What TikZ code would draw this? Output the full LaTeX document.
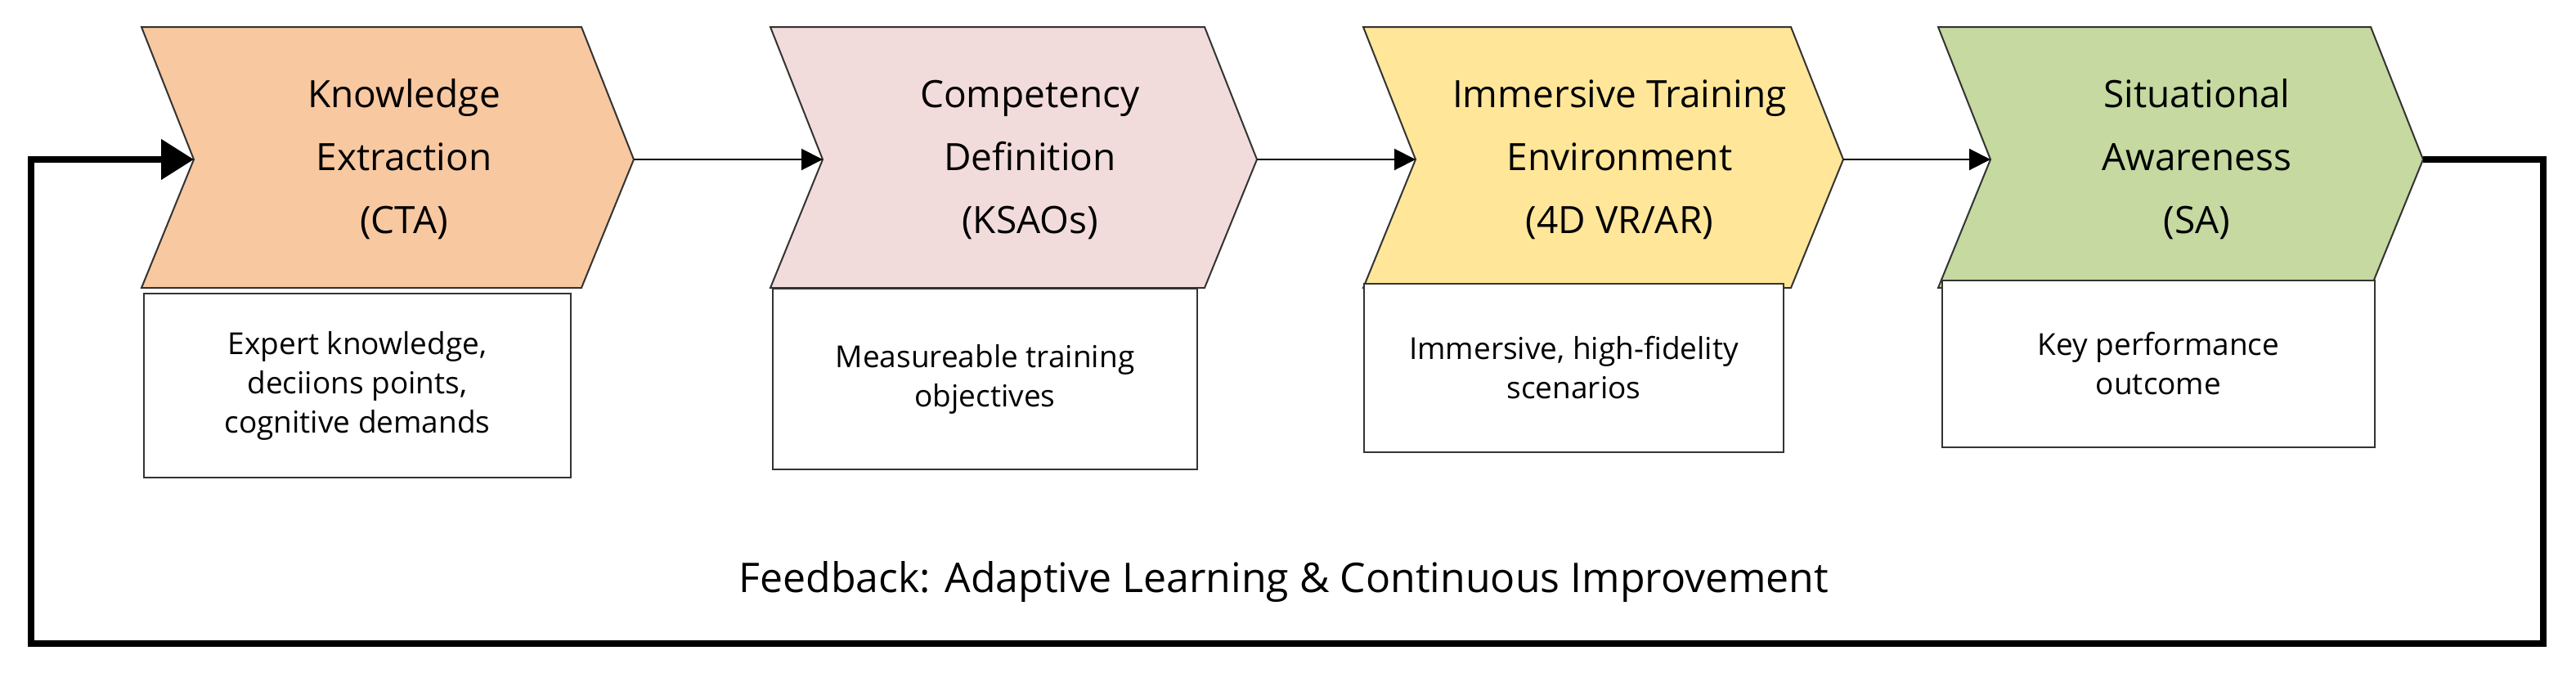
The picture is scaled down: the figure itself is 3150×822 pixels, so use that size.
\documentclass[tikz,border=0pt]{standalone}
\usepackage{fontspec}
\setmainfont{Open Sans}
\usetikzlibrary{arrows.meta}
\definecolor{corange}{HTML}{F8C8A0}
\definecolor{cpink}{HTML}{F2DCDB}
\definecolor{cyellow}{HTML}{FFE699}
\definecolor{cgreen}{HTML}{C5D9A0}
\tikzset{
  chev/.style={draw=black!80, line width=2pt},
  title/.style={align=center, font=\fontsize{46}{77}\selectfont},
  desc/.style={draw=black!80, line width=2pt, fill=white, align=center, font=\fontsize{37}{48}\selectfont, anchor=north west, inner sep=0pt},
  flow/.style={line width=2pt, -{Triangle[length=26pt,width=26pt]}},
  fb/.style={line width=8pt, -{Triangle[length=40pt,width=48pt]}}
}
\newcommand{\chevron}[5]{% name, left x, right x, colour, title
  \draw[chev, fill=#4] (#2,33) -- (#3-64,33) -- (#3,195) -- (#3-64,352) -- (#2,352) -- (#2+64,195) -- cycle;
  \coordinate (#1tip) at (#3,195);
  \coordinate (#1in) at (#2+64,195);
  \node[title] (#1) at ({(#2+#3)/2+20},195) {#5};
}
\begin{document}
\begin{tikzpicture}[x=1pt,y=-1pt]
\useasboundingbox (0,0) rectangle (3150,822);
\chevron{c1}{173}{775}{corange}{Knowledge\\Extraction\\(CTA)}
\chevron{c2}{942}{1537}{cpink}{Competency\\Definition\\(KSAOs)}
\chevron{c3}{1667}{2254}{cyellow}{Immersive Training\\Environment\\(4D VR/AR)}
\chevron{c4}{2370}{2963}{cgreen}{Situational\\Awareness\\(SA)}
\node[desc, minimum width=522pt, minimum height=225pt] (b1) at (175,358) {Expert knowledge,\\deciions points,\\cognitive demands};
\node[desc, minimum width=519pt, minimum height=221pt] (b2) at (944,352) {Measureable training\\objectives};
\node[desc, minimum width=513pt, minimum height=206pt] (b3) at (1667,346) {Immersive, high-fidelity\\scenarios};
\node[desc, minimum width=529pt, minimum height=204pt] (b4) at (2374,342) {Key performance\\outcome};
\draw[flow] (c1tip) -- (c2in);
\draw[flow] (c2tip) -- (c3in);
\draw[flow] (c3tip) -- (c4in);
\coordinate (r1) at (3110,195);
\coordinate (r2) at (3110,787);
\coordinate (l1) at (38,787);
\coordinate (l2) at (38,195);
\draw[fb, line join=miter] (c4tip) -- (r1) -- (r2) -- (l1) -- (l2) -- (c1in);
\node[font=\fontsize{50}{60}\selectfont] (fbt) at (1570,712) {Feedback: Adaptive Learning \& Continuous Improvement};
\end{tikzpicture}
\end{document}
